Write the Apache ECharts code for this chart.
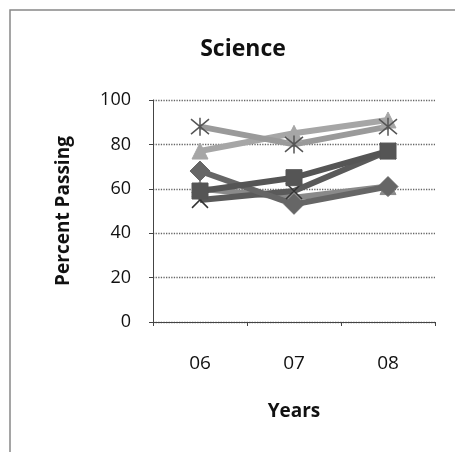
<!DOCTYPE html>
<html><head><meta charset="utf-8">
<script src="https://cdn.jsdelivr.net/npm/echarts@6/dist/echarts.min.js"></script>
<style>html,body{margin:0;padding:0;background:#fff}#c{width:455px;height:452px}</style>
</head><body><div id="c"></div>
<script>
const categories = ['06', '07', '08'];
const seriesDiamond = [68, 53, 61];
const seriesSquare = [59, 65, 77];
const seriesCross = [55, 59, 77];
const seriesTriLow = [60, 56, 61];
const seriesStar = [88, 80, 88];
const seriesTriHigh = [77, 85, 91];
const yTicks = [0, 20, 40, 60, 80, 100];

const chart = echarts.init(document.getElementById('c'));
const crossPath = 'path://M0,0L10,10M10,0L0,10';
const starPath = 'path://M0,0L10,10M10,0L0,10M5,-1L5,11';
function mk(name, data, color, symbol, size, extra) {
  return Object.assign({
    name, type: 'line', data, symbol, symbolSize: size,
    lineStyle: {color, width: 6},
    itemStyle: {color, borderColor: color, borderWidth: 1},
    z: 3
  }, extra || {});
}
chart.setOption({
  animation: false,
  title: {text: 'Science', left: 238, top: 33, textAlign: 'center',
    textStyle: {fontFamily: 'Open Sans', fontWeight: 'bold', fontSize: 23, color: '#111'}},
  grid: {left: 153, right: 20, top: 100, bottom: 130},
  xAxis: {
    type: 'category', data: categories, boundaryGap: true,
    name: 'Years', nameLocation: 'middle', nameGap: 80,
    nameTextStyle: {fontFamily: 'Open Sans', fontWeight: 'bold', fontSize: 19, color: '#111'},
    axisLine: {lineStyle: {color: '#444', width: 1}},
    axisTick: {show: true, inside: false, length: 4, lineStyle: {color: '#444'}},
    axisLabel: {fontFamily: 'Open Sans', fontSize: 19, color: '#111', margin: 32}
  },
  yAxis: {
    type: 'value', min: 0, max: 100, interval: 20,
    name: 'Percent Passing', nameLocation: 'middle', nameGap: 80,
    nameTextStyle: {fontFamily: 'Open Sans', fontWeight: 'bold', fontSize: 19, color: '#111'},
    axisLine: {show: true, lineStyle: {color: '#444', width: 1}},
    axisTick: {show: true, length: 4, lineStyle: {color: '#444'}},
    axisLabel: {fontFamily: 'Open Sans', fontSize: 18, color: '#111', margin: 22,
      formatter: v => yTicks.includes(v) ? String(v) : ''},
    splitLine: {show: true, lineStyle: {color: '#666', width: 1.3, type: 'dotted'}}
  },
  graphic: [
    {type: 'polyline', shape: {points: [[10, 452], [10, 10], [455, 10]]},
     style: {stroke: '#888', lineWidth: 1.5, fill: null}, silent: true}
  ],
  series: [
    mk('Tri High', seriesTriHigh, '#a6a6a6', 'triangle', 16),
    mk('Star', seriesStar, '#9a9a9a', starPath, 18,
      {itemStyle: {color: 'none', borderColor: '#555', borderWidth: 1.5}}),
    mk('Tri Low', seriesTriLow, '#8a8a8a', 'triangle', 16),
    mk('Cross', seriesCross, '#5a5a5a', crossPath, 16,
      {itemStyle: {color: 'none', borderColor: '#333', borderWidth: 1.5}}),
    mk('Diamond', seriesDiamond, '#666', 'diamond', 20),
    mk('Square', seriesSquare, '#555', 'rect', 16)
  ]
});
</script></body></html>
